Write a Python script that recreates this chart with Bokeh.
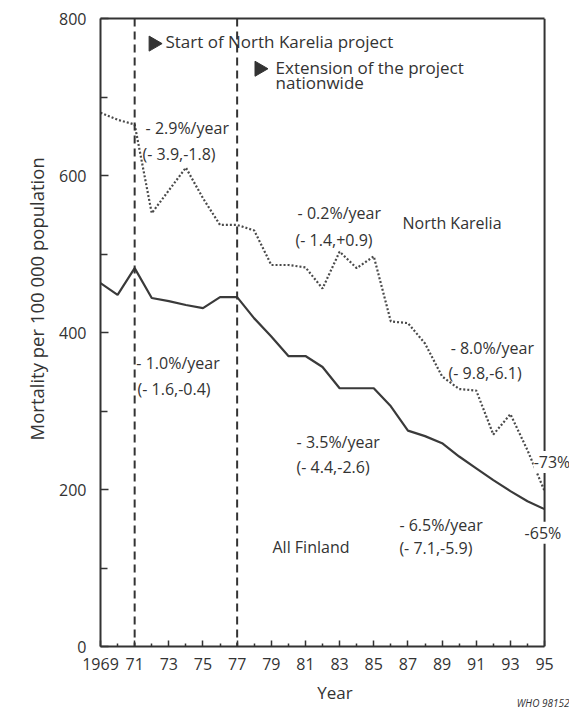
import numpy as np
from bokeh.plotting import figure
from bokeh.models import (LinearAxis, FixedTicker, Span, Label, Range1d, Title)
from bokeh.embed import file_html
from bokeh.resources import INLINE

# ---------------- data ----------------
years = [1969, 1970, 1971, 1972, 1973, 1974, 1975, 1976, 1977, 1978, 1979,
         1980, 1981, 1982, 1983, 1984, 1985, 1986, 1987, 1988, 1989, 1990,
         1991, 1992, 1993, 1994, 1995]
north_karelia = [680, 671, 665, 552, 581, 610, 571, 537, 537, 530, 486,
                 486, 483, 456, 503, 482, 497, 414, 412, 386, 344, 328,
                 326, 270, 296, 250, 198]
all_finland = [463, 448, 482, 444, 440, 435, 431, 445, 445, 418, 395,
               370, 370, 356, 329, 329, 329, 306, 275, 268, 259, 242,
               227, 212, 198, 185, 175]

event_years = [1971, 1977]

x_tick_years = [1969, 1971, 1973, 1975, 1977, 1979, 1981, 1983, 1985, 1987,
                1989, 1991, 1993, 1995]
x_tick_labels = ["1969", "71", "73", "75", "77", "79", "81", "83", "85", "87",
                 "89", "91", "93", "95"]
x_minor_years = [1970, 1972, 1974, 1976, 1978, 1980, 1982, 1984, 1986, 1988,
                 1990, 1992, 1994]
y_ticks = [0, 200, 400, 600, 800]
y_minor = [100, 300, 500, 700]

# annotation texts with positions (data coords: left x, middle y)
ann_texts = ["Start of North Karelia project", "Extension of the project",
             "nationwide", "- 2.9%/year", "(- 3.9,-1.8)", "- 0.2%/year",
             "(- 1.4,+0.9)", "North Karelia", "- 1.0%/year", "(- 1.6,-0.4)",
             "- 8.0%/year", "(- 9.8,-6.1)", "- 3.5%/year", "(- 4.4,-2.6)",
             "All Finland", "- 6.5%/year", "(- 7.1,-5.9)"]
ann_size = ["17px", "17px", "17px"] + ["16px"] * 14
ann_x = [1972.8, 1979.25, 1979.25, 1971.64, 1971.46, 1980.54, 1980.42,
         1986.68, 1971.1, 1971.17, 1989.5, 1989.38, 1980.48, 1980.48,
         1979.07, 1986.5, 1986.5]
ann_y = [771, 738, 719, 660, 627, 552, 518, 540, 361, 328, 380, 348, 261,
         229, 127, 155, 126]

end_texts = ["-73%", "-65%"]
end_x = [1994.36, 1993.83]
end_y = [235, 145]

tri_x = [1972.1, 1978.3]
tri_y = [768, 736]

INK = "#333333"
FONT = "Open Sans"

# frame spans 1969 .. beyond 1995 so end labels are not clipped
p = figure(width=569, height=710, output_backend="svg", toolbar_location=None,
           x_range=Range1d(1969, 1996.46), y_range=Range1d(0, 800),
           min_border_left=100, min_border_right=0, min_border_top=18,
           min_border_bottom=63)
p.outline_line_color = None
p.xgrid.visible = False
p.ygrid.visible = False
p.background_fill_color = "white"

# x axis
xa = p.xaxis[0]
xa.bounds = (years[0], years[-1])
xa.ticker = FixedTicker(ticks=x_tick_years, minor_ticks=x_minor_years)
xa.major_label_overrides = {y: l for y, l in zip(x_tick_years, x_tick_labels)}
xa.major_tick_in = 6
xa.major_tick_out = 0
xa.minor_tick_in = 3
xa.minor_tick_out = 0
xa.major_label_standoff = 11
xa.axis_label = "Year"
xa.axis_label_standoff = 8

ya = p.yaxis[0]
ya.ticker = FixedTicker(ticks=y_ticks, minor_ticks=y_minor)
ya.major_tick_in = 8
ya.major_tick_out = 0
ya.minor_tick_in = 7
ya.minor_tick_out = 0
ya.major_label_standoff = 14
# leading no-break spaces lift the title toward the top like the original
ya.axis_label = "\u00a0" * 14 + "Mortality per 100 000 population"
ya.axis_label_standoff = 7

for a in (xa, ya):
    a.axis_line_width = 2
    a.axis_line_color = INK
    a.major_tick_line_color = INK
    a.minor_tick_line_color = INK
    a.major_tick_line_width = 1.5
    a.minor_tick_line_width = 1.5
    a.major_label_text_font = FONT
    a.major_label_text_font_size = "16px"
    a.major_label_text_color = INK
    a.axis_label_text_font = FONT
    a.axis_label_text_font_style = "normal"
    a.axis_label_text_color = INK
xa.axis_label_text_font_size = "17px"
ya.axis_label_text_font_size = "18.5px"

# top frame line
top = LinearAxis(ticker=FixedTicker(ticks=[]), major_tick_in=0,
                 major_tick_out=0, minor_tick_in=0, minor_tick_out=0,
                 major_label_text_font_size="0px", axis_line_width=2,
                 axis_line_color=INK, bounds=(years[0], years[-1]))
p.add_layout(top, "above")

# right frame line at the last year
p.add_layout(Span(location=years[-1], dimension="height", line_color=INK,
                  line_width=2))

# event lines
for ey in event_years:
    p.add_layout(Span(location=ey, dimension="height", line_color=INK,
                      line_width=2, line_dash="8 5"))

# series
p.line(years, all_finland, line_color="#3a3a3a", line_width=2.2)
p.line(years, north_karelia, line_color="#4a4a4a", line_width=2.2,
       line_dash="2 2")

# triangles
p.scatter(tri_x, tri_y, marker="triangle", size=15, angle=-np.pi / 2,
          fill_color=INK, line_color=INK)

for t, x, y, s in zip(ann_texts, ann_x, ann_y, ann_size):
    p.add_layout(Label(x=x, y=y, text=t, text_font=FONT,
                       text_font_size=s, text_color=INK,
                       text_align="left", text_baseline="middle"))

for t, x, y in zip(end_texts, end_x, end_y):
    p.add_layout(Label(x=x, y=y, text=t, text_font=FONT,
                       text_font_size="16px", text_color=INK,
                       text_align="left", text_baseline="middle",
                       background_fill_color="white", level="overlay"))

# second (blank) line keeps the credit line clear of the bottom edge
p.add_layout(Title(text="WHO 98152\n\u00a0", align="right", text_font=FONT,
                   text_font_size="10px", text_font_style="italic",
                   text_color=INK, standoff=-26), "below")

open("out.html", "w").write(file_html(p, INLINE))
